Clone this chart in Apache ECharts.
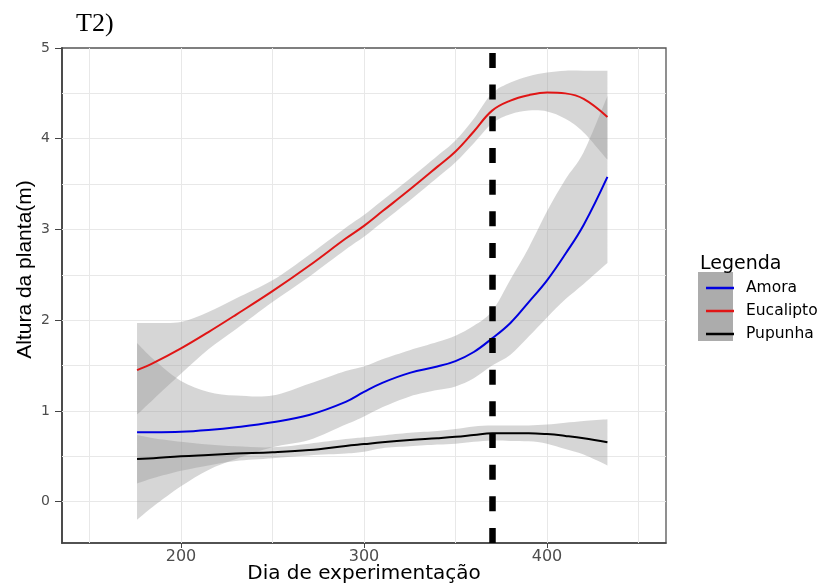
<!DOCTYPE html>
<html>
<head>
<meta charset="utf-8">
<script src="https://cdn.jsdelivr.net/npm/echarts@6/dist/echarts.min.js"></script>
<style>
  html, body { margin: 0; padding: 0; background: #fff; }
  #chart { width: 824px; height: 585px; }
</style>
</head>
<body>
<div id="chart"></div>
<script>
// dias amostrados ao longo das curvas suavizadas
const dias = [176, 185, 200, 215, 230, 250, 270, 290, 300, 310, 325, 340, 350, 360, 370, 380, 390, 400, 410, 420, 433];

const amora   = [0.765, 0.765, 0.77, 0.79, 0.82, 0.875, 0.955, 1.10, 1.21, 1.31, 1.42, 1.49, 1.55, 1.65, 1.80, 1.97, 2.20, 2.44, 2.73, 3.05, 3.58];
const amoraLo = [-0.20, -0.05, 0.17, 0.35, 0.47, 0.60, 0.68, 0.85, 0.94, 1.04, 1.16, 1.23, 1.27, 1.36, 1.50, 1.62, 1.82, 2.03, 2.23, 2.40, 2.63];
const amoraHi = [1.75, 1.57, 1.33, 1.21, 1.17, 1.17, 1.30, 1.44, 1.49, 1.57, 1.67, 1.76, 1.83, 1.94, 2.10, 2.45, 2.80, 3.20, 3.55, 3.85, 4.47];

const eucalipto   = [1.45, 1.53, 1.69, 1.87, 2.06, 2.32, 2.60, 2.90, 3.04, 3.20, 3.44, 3.69, 3.86, 4.08, 4.31, 4.42, 4.48, 4.51, 4.50, 4.44, 4.24];
const eucaliptoLo = [0.96, 1.13, 1.41, 1.68, 1.90, 2.20, 2.48, 2.78, 2.92, 3.08, 3.32, 3.57, 3.74, 3.95, 4.17, 4.27, 4.31, 4.30, 4.22, 4.07, 3.77];
const eucaliptoHi = [1.97, 1.97, 1.98, 2.09, 2.24, 2.44, 2.72, 3.02, 3.16, 3.32, 3.56, 3.81, 3.98, 4.22, 4.50, 4.62, 4.69, 4.73, 4.75, 4.75, 4.75];

const pupunha   = [0.47, 0.48, 0.50, 0.515, 0.53, 0.545, 0.57, 0.615, 0.635, 0.655, 0.68, 0.70, 0.715, 0.735, 0.755, 0.755, 0.755, 0.745, 0.725, 0.70, 0.655];
const pupunhaLo = [0.20, 0.26, 0.34, 0.40, 0.45, 0.48, 0.51, 0.53, 0.55, 0.59, 0.61, 0.63, 0.64, 0.66, 0.675, 0.67, 0.665, 0.64, 0.58, 0.52, 0.40];
const pupunhaHi = [0.735, 0.70, 0.66, 0.63, 0.61, 0.60, 0.64, 0.69, 0.71, 0.73, 0.76, 0.78, 0.80, 0.83, 0.84, 0.84, 0.84, 0.85, 0.87, 0.89, 0.91];

const xTicks = [200, 300, 400];
const yTicks = [0, 1, 2, 3, 4, 5];
const gradeX = [150, 200, 250, 300, 350, 400, 450];
const gradeY = [0, 0.5, 1, 1.5, 2, 2.5, 3, 3.5, 4, 4.5];
const diaCorte = 370;

const nomes = ['Amora', 'Eucalipto', 'Pupunha'];
const cores = ['#0000e0', '#e01515', '#000000'];

const pares = (ys) => dias.map((d, i) => [d, ys[i]]);

// trecho suavizado (catmull-rom -> bezier) passando pelos pontos
function curva (pts, t) {
    let s = ''
    for (let i = 0; i < pts.length - 1; i++) {
        const p0 = pts[Math.max(i - 1, 0)], p1 = pts[i], p2 = pts[i + 1], p3 = pts[Math.min(i + 2, pts.length - 1)]
        const c1 = [p1[0] + (p2[0] - p0[0]) * t, p1[1] + (p2[1] - p0[1]) * t]
        const c2 = [p2[0] - (p3[0] - p1[0]) * t, p2[1] - (p3[1] - p1[1]) * t]
        s += ' C' + c1[0] + ',' + c1[1] + ' ' + c2[0] + ',' + c2[1] + ' ' + p2[0] + ',' + p2[1]
    }
    return s
}

// faixa de confiança desenhada como um caminho só (custom series)
function faixa (id, lo, hi) {
    return {
        name: id,
        type: 'custom',
        silent: true,
        coordinateSystem: 'cartesian2d',
        encode: { x: 0, y: [1, 2] },
        data: dias.map((d, i) => [d, lo[i], hi[i]]),
        renderItem: function (params, api) {
            if (params.dataIndex !== 0) return null
            const baixo = dias.map((d, i) => api.coord([d, lo[i]]))
            const cima = dias.map((d, i) => api.coord([d, hi[i]])).reverse()
            const d = 'M' + baixo[0][0] + ',' + baixo[0][1] + curva(baixo, 0.16) +
                ' L' + cima[0][0] + ',' + cima[0][1] + curva(cima, 0.16) + ' Z'
            return {
                type: 'path',
                shape: { pathData: d },
                style: { fill: 'rgba(153,153,153,0.4)' }
            }
        }
    }
}

const gradeMarks = {
    silent: true,
    symbol: 'none',
    z: 1,
    label: { show: false },
    lineStyle: { color: '#e8e8e8', width: 1, type: 'solid' },
    data: gradeX.map(v => ({ xAxis: v })).concat(gradeY.map(v => ({ yAxis: v })))
}

const series = [
    faixa('faixaAmora', amoraLo, amoraHi),
    faixa('faixaEucalipto', eucaliptoLo, eucaliptoHi),
    faixa('faixaPupunha', pupunhaLo, pupunhaHi)
]
series[0].markLine = gradeMarks

const linhas = [amora, eucalipto, pupunha]
linhas.forEach((ys, i) => {
    series.push({
        name: nomes[i],
        type: 'line',
        smooth: 0.4,
        symbol: 'none',
        z: 3,
        lineStyle: { color: cores[i], width: 2 },
        itemStyle: { color: cores[i] },
        data: pares(ys)
    })
})

// linha tracejada vertical
series[series.length - 1].markLine = {
    silent: true,
    symbol: 'none',
    z: 6,
    label: { show: false },
    lineStyle: { color: '#000', width: 6.5, type: [15, 16.67] },
    data: [{ xAxis: diaCorte }]
}

const chart = echarts.init(document.getElementById('chart'), null, { renderer: 'canvas' });

const option = {
    animation: false,
    backgroundColor: '#fff',
    title: [
        {
            text: 'T2)',
            left: 71,
            top: 6,
            textStyle: { fontFamily: 'Liberation Serif', fontWeight: 'normal', fontSize: 26, color: '#000' }
        },
        {
            text: 'Legenda',
            left: 695,
            top: 250,
            textStyle: { fontFamily: 'DejaVu Sans', fontWeight: 'normal', fontSize: 19, color: '#000' }
        }
    ],
    graphic: [
        {
            type: 'rect',
            z: 0,
            shape: { x: 698, y: 272, width: 35, height: 69 },
            style: { fill: '#acacac' }
        }
    ],
    legend: {
        data: nomes,
        orient: 'vertical',
        left: 701,
        top: 275,
        icon: 'rect',
        itemWidth: 28,
        itemHeight: 2.5,
        itemGap: 7,
        selectedMode: false,
        textStyle: {
            fontFamily: 'DejaVu Sans',
            fontSize: 15.5,
            lineHeight: 16,
            color: '#000',
            padding: [0, 0, 0, 7]
        }
    },
    grid: {
        left: 62,
        right: 158,
        top: 48,
        bottom: 42,
        outerBoundsMode: 'none',
        containLabel: false,
        show: true,
        borderColor: '#555',
        borderWidth: 1.3,
        backgroundColor: '#fff'
    },
    xAxis: {
        type: 'value',
        min: 135,
        max: 465,
        name: 'Dia de experimentação',
        nameLocation: 'middle',
        nameGap: 21,
        nameMoveOverlap: false,
        nameTextStyle: { fontFamily: 'DejaVu Sans', fontSize: 20, color: '#000' },
        axisLine: { show: true, onZero: false, lineStyle: { color: '#444', width: 1.5 } },
        axisTick: { show: true, length: 5, customValues: xTicks, lineStyle: { color: '#444' } },
        axisLabel: {
            customValues: xTicks,
            margin: 6,
            fontFamily: 'DejaVu Sans',
            fontSize: 16,
            color: '#4d4d4d'
        },
        splitLine: { show: false }
    },
    yAxis: {
        type: 'value',
        min: -0.455,
        max: 5,
        name: 'Altura da planta(m)',
        nameLocation: 'middle',
        nameGap: 26,
        nameMoveOverlap: false,
        nameTextStyle: { fontFamily: 'Liberation Sans', fontSize: 21, color: '#000', padding: [0, 0, 0, 52] },
        axisLine: { show: true, onZero: false, lineStyle: { color: '#444', width: 1.8 } },
        axisTick: { show: true, length: 7, customValues: yTicks, lineStyle: { color: '#444' } },
        axisLabel: {
            customValues: yTicks,
            margin: 12,
            fontFamily: 'DejaVu Sans',
            fontSize: 14,
            color: '#4d4d4d'
        },
        splitLine: { show: false }
    },
    series: series
};

chart.setOption(option);
</script>
</body>
</html>
